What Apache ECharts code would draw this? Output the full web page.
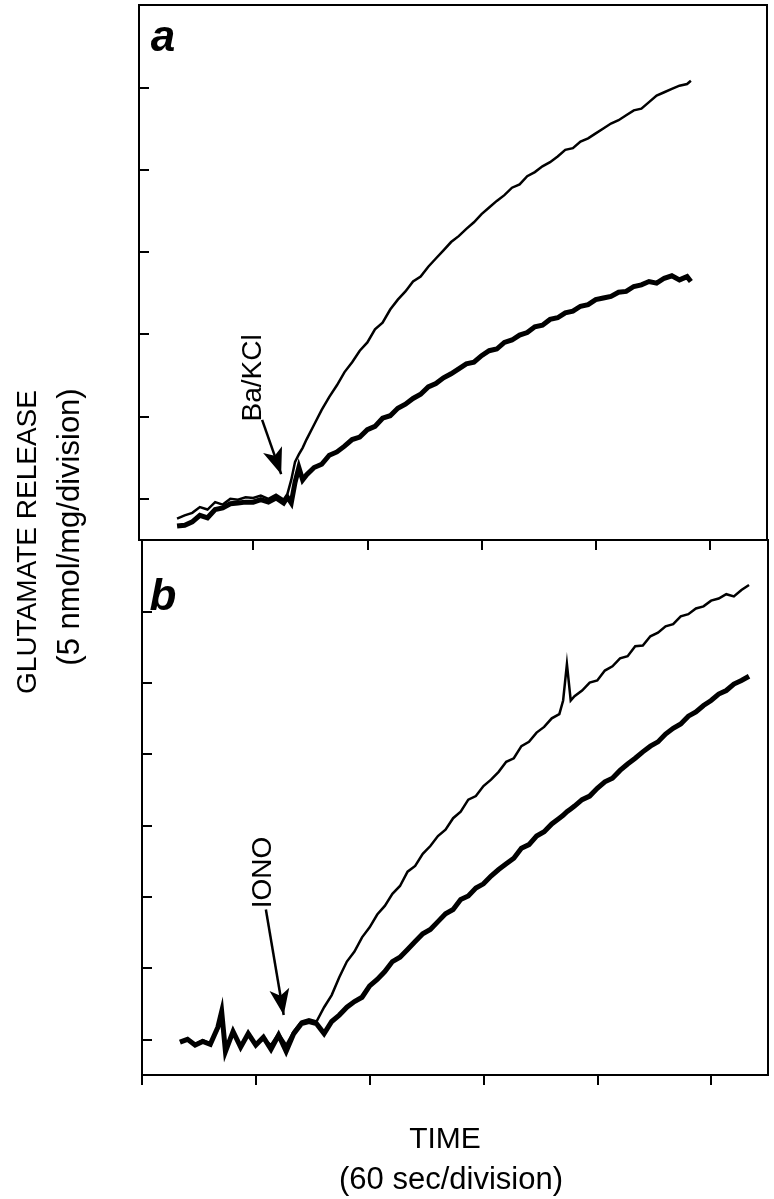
<!DOCTYPE html>
<html>
<head>
<meta charset="utf-8">
<script src="https://cdn.jsdelivr.net/npm/echarts@6/dist/echarts.min.js"></script>
<style>
html,body{margin:0;padding:0;background:#fff;}
#chart{width:774px;height:1199px;}
</style>
</head>
<body>
<div id="chart"></div>
<script>
// ---- data (time in s, release in nmol/mg relative to baseline) ----
const timeA = [20,24,28,32,36,40,44,48,52,56,60,64,68,72,76,78,80,82,84,86,88,92,96,100,104,108,112,116,120,124,128,132,136,140,144,148,152,156,160,164,168,172,176,180,184,188,192,196,200,204,208,212,216,220,224,228,232,236,240,244,248,252,256,260,264,268,272,276,280,284,288,290];
const thinA = [-1.2,-1.0,-0.85,-0.5,-0.65,-0.2,-0.35,0,-0.05,0.1,0.05,0.2,0,0.25,-0.05,0.3,1.15,2.25,2.7,3.1,3.6,4.5,5.4,6.2,6.9,7.7,8.3,9.0,9.5,10.3,10.7,11.5,12.1,12.6,13.2,13.5,14.1,14.6,15.1,15.6,15.96,16.4,16.8,17.3,17.7,18.1,18.45,18.9,19.1,19.6,19.85,20.2,20.45,20.8,21.2,21.3,21.7,21.9,22.2,22.5,22.8,23.0,23.3,23.6,23.7,24.1,24.5,24.7,24.9,25.1,25.2,25.4];
const thickA = [-1.65,-1.6,-1.4,-1.0,-1.15,-0.65,-0.55,-0.3,-0.25,-0.2,-0.2,-0.05,-0.2,0.05,-0.25,0.1,-0.25,1.0,1.9,1.15,1.45,1.9,2.1,2.65,2.85,3.2,3.6,3.75,4.2,4.4,4.9,5.05,5.5,5.75,6.1,6.35,6.8,7.0,7.35,7.6,7.9,8.2,8.3,8.7,9.0,9.1,9.5,9.65,9.95,10.1,10.45,10.55,10.9,11.0,11.3,11.4,11.7,11.8,12.1,12.2,12.3,12.55,12.6,12.9,13.0,13.2,13.1,13.4,13.55,13.3,13.5,13.2];

const timeB = [20,24,28,32,36,40,42,44,48,52,56,60,64,68,72,76,80,84,88,92,96,100,104,108,112,116,120,124,128,132,136,140,144,148,152,156,160,164,168,172,176,180,184,188,192,196,200,204,208,212,216,220,222,224,226,228,232,236,240,244,248,252,256,260,264,268,272,276,280,284,288,292,296,300,304,308,312,316,320];
const thinB = [-0.15,0,-0.35,-0.05,-0.3,0.7,1.95,-0.7,0.35,-0.4,0.3,-0.3,0,-0.4,0.4,-0.4,0.55,1.25,1.4,1.25,2.25,3.1,4.35,5.45,6.15,7.15,7.85,8.75,9.35,10.2,10.75,11.75,12.15,13.0,13.55,14.25,14.7,15.5,15.95,16.8,17.05,17.75,18.2,18.75,19.45,19.7,20.55,20.85,21.5,21.9,22.5,22.8,23.75,26.3,23.75,24.05,24.45,25.0,25.15,25.85,26.15,26.7,26.85,27.55,27.6,28.25,28.5,28.95,29.1,29.65,29.8,30.2,30.35,30.75,30.9,31.2,31.05,31.5,31.85];
const thickB = [-0.2,0,-0.4,-0.15,-0.35,0.85,1.95,-0.85,0.55,-0.55,0.4,-0.4,0.15,-0.7,0.3,-0.85,0.4,1.1,1.25,1.1,0.4,1.25,1.7,2.25,2.65,2.95,3.75,4.2,4.75,5.45,5.75,6.3,6.85,7.4,7.7,8.25,8.8,9.1,9.8,10.05,10.6,10.9,11.45,11.9,12.3,12.7,13.4,13.65,14.25,14.55,15.1,15.5,15.7,15.95,16.15,16.35,16.8,17.05,17.6,18.05,18.3,18.85,19.3,19.7,20.15,20.55,20.85,21.4,21.8,22.1,22.65,22.95,23.4,23.75,24.2,24.45,24.9,25.15,25.45];

const yTicksA = [0,5,10,15,20,25];
const yTicksB = [0,5,10,15,20,25,30];
const xTicksA = [60,120,180,240,300];
const xTicksB = [0,60,120,180,240,300];

const arrowA = [[64.7,4.8],[74.7,1.5]];
const arrowB = [[65.3,9.1],[74.7,1.7]];
const labelA = {text:'Ba/KCl', at:[60,7.35]};
const labelB = {text:'IONO', at:[63.7,11.7]};

const FONT = '"Liberation Sans", Arial, Helvetica, sans-serif';

function pairs(t, v){ return t.map((x,i)=>[x, v[i]]); }

function xAxisCfg(idx, ticks){
  return {
    type:'value', gridIndex:idx, min:0, max:330, interval:60, position:'bottom',
    axisLine:{show:true, onZero:false, lineStyle:{color:'#000', width:2}},
    axisTick:{show:true, inside:false, length:10, customValues:ticks, lineStyle:{color:'#000', width:2}},
    axisLabel:{show:false}, splitLine:{show:false}
  };
}
function yAxisCfg(idx, max, ticks){
  return {
    type:'value', gridIndex:idx, min:-2.5, max:max, position:'left',
    axisLine:{show:true, onZero:false, lineStyle:{color:'#000', width:2}},
    axisTick:{show:true, inside:true, length:10, customValues:ticks, lineStyle:{color:'#000', width:2}},
    axisLabel:{show:false}, splitLine:{show:false}
  };
}
function lineSeries(idx, t, v, w, extra){
  return Object.assign({
    type:'line', xAxisIndex:idx, yAxisIndex:idx, data:pairs(t,v),
    symbol:'none', smooth:false, silent:true,
    lineStyle:{color:'#000', width:w, join:'miter'}
  }, extra||{});
}
function annot(arrow, label){
  return {
    markLine:{
      silent:true, symbol:['none','arrow'], symbolSize:[15,26],
      lineStyle:{color:'#000', width:2.5, type:'solid'},
      itemStyle:{color:'#000'},
      label:{show:false},
      data:[[{coord:arrow[0]},{coord:arrow[1]}]]
    },
    markPoint:{
      silent:true, symbolSize:0,
      label:{show:true, position:'inside', rotate:90, color:'#000', fontSize:28, fontFamily:FONT, formatter:label.text},
      data:[{coord:label.at, value:0}]
    }
  };
}

const chart = echarts.init(document.getElementById('chart'), null, {renderer:'canvas'});
chart.setOption({
  animation:false,
  backgroundColor:'#fff',
  grid:[
    {left:139, right:7, top:5, height:535, show:true, borderColor:'#000', borderWidth:2, backgroundColor:'transparent'},
    {left:142, right:6, top:540, height:535, show:true, borderColor:'#000', borderWidth:2, backgroundColor:'transparent'}
  ],
  xAxis:[xAxisCfg(0, xTicksA), xAxisCfg(1, xTicksB)],
  yAxis:[yAxisCfg(0, 30, yTicksA), yAxisCfg(1, 35, yTicksB)],
  series:[
    lineSeries(0, timeA, thinA, 2.5),
    lineSeries(0, timeA, thickA, 5, annot(arrowA, labelA)),
    lineSeries(1, timeB, thinB, 2.5),
    lineSeries(1, timeB, thickB, 5, annot(arrowB, labelB))
  ],
  graphic:[
    {type:'text', x:163, y:61, style:{text:'a', font:'italic bold 44px '+FONT, fill:'#000', textAlign:'center', textVerticalAlign:'bottom'}},
    {type:'text', x:163, y:620, style:{text:'b', font:'italic bold 44px '+FONT, fill:'#000', textAlign:'center', textVerticalAlign:'bottom'}},
    {type:'text', x:28, y:542, rotation:Math.PI/2, style:{text:'GLUTAMATE RELEASE', font:'28px '+FONT, fill:'#000', textAlign:'center', textVerticalAlign:'middle'}},
    {type:'text', x:70, y:527, rotation:Math.PI/2, style:{text:'(5 nmol/mg/division)', font:'31px '+FONT, fill:'#000', textAlign:'center', textVerticalAlign:'middle'}},
    {type:'text', x:445, y:1140, style:{text:'TIME', font:'30px '+FONT, fill:'#000', textAlign:'center', textVerticalAlign:'middle'}},
    {type:'text', x:451, y:1180, style:{text:'(60 sec/division)', font:'31px '+FONT, fill:'#000', textAlign:'center', textVerticalAlign:'middle'}}
  ]
});
</script>
</body>
</html>
